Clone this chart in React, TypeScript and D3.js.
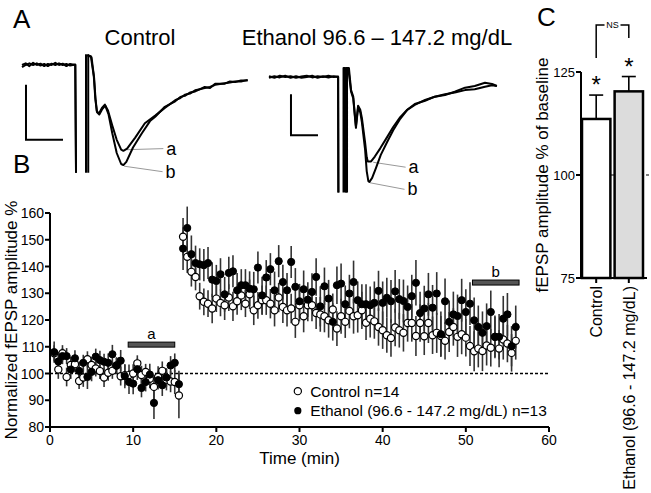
import React, { useEffect } from 'react';
import * as d3 from 'd3';

const FONT = '"Liberation Sans", Arial, Helvetica, sans-serif';

// ---------- Panel B data ----------
const baselineTimes = [0.5, 1, 1.5, 2, 2.5, 3, 3.5, 4, 4.5, 5, 5.5, 6, 6.5, 7, 7.5, 8, 8.5, 9, 9.5, 10, 10.5, 11, 11.5, 12, 12.5, 13, 13.5, 14, 14.5, 15, 15.5];
const postTimes = [16, 16.5, 17, 17.5, 18, 18.5, 19, 19.5, 20, 20.5, 21, 21.5, 22, 22.5, 23, 23.5, 24, 24.5, 25, 25.5, 26, 26.5, 27, 27.5, 28, 28.5, 29, 29.5, 30, 30.5, 31, 31.5, 32, 32.5, 33, 33.5, 34, 34.5, 35, 35.5, 36, 36.5, 37, 37.5, 38, 38.5, 39, 39.5, 40, 40.5, 41, 41.5, 42, 42.5, 43, 43.5, 44, 44.5, 45, 45.5, 46, 46.5, 47, 47.5, 48, 48.5, 49, 49.5, 50, 50.5, 51, 51.5, 52, 52.5, 53, 53.5, 54, 54.5, 55, 55.5, 56];

const controlBaseline = [107.6, 101.5, 107.6, 98.7, 103.2, 103.5, 97.2, 98.5, 105.3, 103.2, 101.9, 100.9, 98.5, 100.3, 101, 103, 99, 99.4, 99.4, 100, 103.8, 99.4, 100.6, 98, 95, 98.7, 101, 97.7, 97, 96.8, 91.8];
const ethanolBaseline = [108, 104.5, 106.5, 106.5, 101.5, 105.7, 101, 104, 98.7, 100.6, 106.3, 105, 104.4, 104, 107.2, 103, 104.8, 99, 96.8, 96.2, 101.6, 94.6, 96.8, 99.6, 89, 97.5, 95.6, 98.5, 103, 104, 96];
const controlBaselineSem = [3, 3.5, 3, 3.5, 3, 3, 3, 3.5, 3, 3, 3, 3, 3.5, 3, 3, 3, 3.5, 4, 4, 3.5, 3, 3.5, 3, 3.5, 4.5, 4, 3.5, 4, 4, 4.5, 8.5];
const ethanolBaselineSem = [4, 3.5, 3, 3, 3.5, 3, 3.5, 3, 4.5, 3.5, 3, 3.5, 3, 3.5, 3.5, 3, 4, 4.5, 4.5, 4, 4, 3.5, 3.5, 4, 6, 3.5, 4, 3.5, 3.5, 3.5, 5];

const controlPost = [151.1, 143.6, 138, 136.1, 128.9, 126.8, 126.1, 124.3, 128, 126.4, 125.5, 128.4, 125.1, 127, 129.2, 126.1, 129.6, 123.6, 125.5, 127.4, 127.4, 126.1, 123.6, 128.4,
  124.9, 123.6, 124.3, 119.3, 125.5, 121.4, 125.5, 125.5, 122.6, 122.1, 121.4, 119.9, 123.9, 116.8, 121.4, 119.3, 123.4, 121.4, 121.8, 123.6, 119, 120.5, 119.5, 117.4, 116.2, 114.3, 113.3, 117.2, 116.2, 115.2, 118.9,
  118.9, 114, 118.9, 113.9, 118.9, 114.3, 115.2, 114, 112.2, 115.5, 117.4, 113.7, 114.7, 113.4, 110.3, 108.3, 109.3, 108.4, 110.5, 109.6, 113.7, 109.3, 112.7, 111.2, 107.7, 112.2];
const ethanolPost = [146.7, 154.4, 144.6, 141.3, 140.8, 140.5, 141.3, 135.1, 134.6, 137.1, 129.6, 137.6, 138.2, 131.1, 133, 133, 131.7, 131.5, 139.6, 129.2, 135.9, 139, 131.1, 142,
  134.2, 131.1, 141.7, 132.4, 127, 131.5, 127.6, 130.5, 136.1, 125.1, 132.6, 128, 119.3, 133, 133.6, 125.9, 129.9, 134.2, 127.4, 125.9, 125.9, 125.5, 126.4, 130.9, 126.4, 128.3, 127, 130.7, 127.8, 127.1, 124.9,
  128.9, 133.9, 122.6, 124.3, 129.6, 124.6, 129.9, 114.7, 127, 119.3, 122.1, 121.5, 127.4, 123, 126.1, 119.9, 117.4, 115.2, 117.7, 123, 113.7, 113.7, 120.5, 122.1, 110.2, 117.4];
const controlPostSem = [7, 6, 5.5, 5, 5, 5, 5, 5.5, 5, 5,
  5.5, 5, 5.5, 5, 5.5, 5, 5.5, 5.5, 5, 5.5,
  5.5, 5.5, 6, 5.5, 6, 6, 5.5, 6, 6, 6,
  6, 6, 6, 6.5, 6, 6.5, 6, 6.5, 6.5, 6,
  6.5, 6.5, 6.5, 7, 6.5, 7, 6.5, 7, 7, 6.5,
  7, 7, 6.5, 7, 7, 7, 7.5, 7, 7, 7.5,
  7, 7.5, 7.5, 7, 7.5, 7, 7.5, 7.5, 7, 7.5,
  7.5, 7, 7.5, 7.5, 7, 7.5, 7, 7.5, 7, 7,
  7];
const ethanolPostSem = [8, 8, 7, 6.5, 6, 6, 6, 6.5, 6, 6,
  6.5, 6, 6, 6.5, 6, 6, 6.5, 6.5, 6, 7,
  6.5, 6, 7, 6, 6.5, 6.5, 6, 7, 6.5, 7,
  6.5, 7, 7, 7.5, 7, 7, 7, 7, 7.5, 7,
  7, 8, 7, 7.5, 7.5, 7, 8, 7.5, 8, 7.5,
  8, 8, 7.5, 8, 8, 8, 8.5, 8, 8.5, 8,
  8.5, 8, 8.5, 8.5, 8, 8.5, 8, 8, 8.5, 8,
  8.5, 8, 8, 8.5, 8, 8, 8.5, 8.5, 8, 7.5,
  8];

const xTicksB = [0, 10, 20, 30, 40, 50, 60];
const yTicksB = [80, 90, 100, 110, 120, 130, 140, 150, 160];
const periodA = [9.4, 15.0];
const periodB = [50.8, 56.4];
const legendLabels = ['Control n=14', 'Ethanol (96.6 - 147.2 mg/dL) n=13'];

// ---------- Panel C data ----------
const groupsC = ['Control', 'Ethanol (96.6 - 147.2 mg/dL)'];
const meansC = [113.6, 120.3];
const semsC = [5.8, 3.6];
const yTicksC = [75, 100, 125];

// ---------- Panel A traces (time ms, amplitude mV) ----------
type P = [number, number] | null;
const controlTraceA: P[] = [[0, 0], [0.5, 0.015], [1, -0.01], [1.5, 0.02], [2, 0], [2.5, 0.012], [3, -0.01], [3.5, 0.01], [4, 0], [4.5, 0.02], [5, 0], [5.5, 0.012], [6, -0.01], [6.5, 0.01], [7.2, 0],
  [7.3, -0.98], null, [8.65, -0.98], [8.65, 0.09], [9.3, 0.08], [9.7, -0.1], [9.9, -0.3], [10.1, -0.42], [10.4, -0.44], [10.8, -0.39], [11.2, -0.36], [11.6, -0.41], [12.2, -0.55], [12.8, -0.68], [13.4, -0.77], [13.7, -0.78], [14.2, -0.76], [15.3, -0.66], [16.6, -0.53], [18, -0.46], [19.3, -0.39], [20.7, -0.32], [21.4, -0.3], [22, -0.27], [22.7, -0.26], [23.4, -0.23], [24.7, -0.21], [25.4, -0.2], [26.1, -0.18], [27.4, -0.165], [28.1, -0.16], [28.8, -0.15], [29.6, -0.15], [30.5, -0.135]];
const controlTraceB: P[] = [[0, -0.02], [0.5, 0.0], [1, 0.015], [1.5, 0.0], [2, 0.015], [2.5, -0.005], [3, 0.01], [3.5, -0.01], [4, 0.012], [4.5, 0], [5, 0.015], [5.5, 0], [6, 0.01], [6.5, -0.005], [7.2, 0.005],
  [7.3, -0.98], null, [8.95, -0.98], [8.95, 0.09], [9.4, 0.07], [9.75, -0.12], [9.95, -0.32], [10.15, -0.43], [10.45, -0.45], [10.85, -0.4], [11.25, -0.37], [11.7, -0.45], [12.2, -0.62], [12.8, -0.8], [13.4, -0.9], [13.7, -0.91], [14.1, -0.88], [15, -0.75], [16.2, -0.62], [17.3, -0.51], [18, -0.47], [19.3, -0.38], [20.7, -0.33], [21.4, -0.29], [22, -0.28], [22.7, -0.25], [23.4, -0.24], [24.7, -0.2], [25.4, -0.21], [26.1, -0.17], [27.4, -0.17], [28.1, -0.15], [28.8, -0.155], [29.6, -0.14], [30.5, -0.14]];
const ethanolTraceA: P[] = [[0, 0.01], [1, -0.01], [2, 0.015], [3, 0], [4, 0.01], [5, -0.01], [6, 0.005], [7, 0.015], [8, -0.005], [9, 0.01], [10, 0], [11, 0.015], [12, 0], [12.8, 0.005],
  [12.85, -1.41], null, [13.8, -1.41], [13.8, 0.11], [14.1, 0.11], [14.1, -1.41], null, [14.45, -1.41], [14.45, 0.11], [14.8, 0.11], [15.2, -0.16], [15.6, -0.24], [15.9, -0.46], [16.1, -0.6], [16.5, -0.35], [16.9, -0.4], [17.2, -0.5], [17.8, -0.8], [18.1, -0.98], [18.3, -1.03], [18.9, -1.03], [19.6, -0.97], [20.6, -0.87], [21.9, -0.73], [23, -0.61], [24.3, -0.49], [25.6, -0.4], [27, -0.34], [28.9, -0.28], [30.7, -0.24], [32.6, -0.22], [34.4, -0.18], [36.3, -0.13], [38.1, -0.11], [40, -0.07], [41.3, -0.085], [42.2, -0.11]];
const ethanolTraceB: P[] = [[0, -0.01], [1, 0.01], [2, -0.005], [3, 0.015], [4, -0.01], [5, 0.01], [6, -0.01], [7, 0], [8, 0.015], [9, -0.01], [10, 0.01], [11, -0.005], [12, 0.01], [12.8, 0],
  [12.85, -1.41], null, [14.3, -1.41], [14.3, 0.11], [14.7, 0.1], [15.2, -0.18], [15.6, -0.26], [15.9, -0.48], [16.1, -0.62], [16.5, -0.37], [16.9, -0.43], [17.2, -0.55], [17.8, -0.89], [18.1, -1.15], [18.4, -1.27], [18.6, -1.28], [19.1, -1.23], [19.8, -1.11], [20.7, -0.95], [21.9, -0.79], [23, -0.65], [24.3, -0.51], [25.6, -0.4], [27, -0.33], [28.9, -0.29], [30.7, -0.24], [32.6, -0.21], [34.4, -0.19], [36.3, -0.16], [38.1, -0.15], [40, -0.12], [41.3, -0.1], [42.2, -0.11]];
const traceLabels = ['a', 'b'];
const controlLeaders = [[[14.2, -0.77], [19.1, -0.76]], [[13.8, -0.92], [19.0, -0.97]]];
const ethanolLeaders = [[[19.3, -1.04], [25.3, -1.1]], [[18.7, -1.29], [25.1, -1.37]]];

const titleControl = 'Control';
const titleEthanol = 'Ethanol 96.6 \u2013 147.2 mg/dL';

export default function App() {
  useEffect(() => {
    document.body.style.margin = '0';
  }, []);

  const xB = d3.scaleLinear().domain([0, 60]).range([50, 549]);
  const yB = d3.scaleLinear().domain([80, 160]).range([427, 213]);

  const controlPts = [...baselineTimes.map((t, i) => ({ t, v: controlBaseline[i], s: controlBaselineSem[i] })),
    ...postTimes.map((t, i) => ({ t, v: controlPost[i], s: controlPostSem[i] }))];
  const ethanolPts = [...baselineTimes.map((t, i) => ({ t, v: ethanolBaseline[i], s: ethanolBaselineSem[i] })),
    ...postTimes.map((t, i) => ({ t, v: ethanolPost[i], s: ethanolPostSem[i] }))];

  const xC = d3.scaleBand().domain(groupsC).range([582, 643]).paddingInner(0.13);
  const yC = d3.scaleLinear().domain([75, 125]).range([278, 72]);

  const cx = d3.scaleLinear().domain([0, 1]).range([22, 29.4]);
  const cy = d3.scaleLinear().domain([0, 1]).range([65, -45]);
  const ex = d3.scaleLinear().domain([0, 1]).range([269, 274.4]);
  const ey = d3.scaleLinear().domain([0, 1]).range([77, -5]);

  const mkLine = (sx: any, sy: any) => d3.line<P>().defined((d) => d !== null).x((d: any) => sx(d[0])).y((d: any) => sy(d[1]));
  const cLine = mkLine(cx, cy);
  const eLine = mkLine(ex, ey);

  const txt = { fontFamily: FONT, fill: '#000' } as const;
  const c0 = (xC(groupsC[0]) as number) + xC.bandwidth() / 2;
  const c1 = (xC(groupsC[1]) as number) + xC.bandwidth() / 2;
  const mid = (c0 + c1) / 2;
  const brTop = 25;

  return (
    <svg width={651} height={493} style={{ position: 'absolute', left: 0, top: 0, background: '#fff' }}>
      <rect x={0} y={0} width={651} height={493} fill="#fff" />
      <text x={13} y={28} fontSize={26} {...txt}>A</text>
      <text x={13} y={173} fontSize={26} {...txt}>B</text>
      <text x={537} y={26} fontSize={26} {...txt}>C</text>

      {/* ---------- Panel A ---------- */}
      <text x={140} y={45} fontSize={22} textAnchor="middle" {...txt}>{titleControl}</text>
      <text x={377} y={45} fontSize={22} textAnchor="middle" {...txt}>{titleEthanol}</text>
      <path d={`M${cx(0.54)},${cy(-0.18)}V${cy(-0.68)}H${cx(5.54)}`} fill="none" stroke="#000" strokeWidth={2} />
      <path d={`M${ex(4.07)},${ey(-0.21)}V${ey(-0.71)}H${ex(9.07)}`} fill="none" stroke="#000" strokeWidth={2} />
      {controlLeaders.map((l, i) => (
        <g key={'cl' + i}>
          <line x1={cx(l[0][0])} y1={cy(l[0][1])} x2={cx(l[1][0])} y2={cy(l[1][1])} stroke="#999" strokeWidth={1} />
          <text x={cx(l[1][0]) + 3} y={cy(l[1][1]) + 6} fontSize={18} {...txt}>{traceLabels[i]}</text>
        </g>
      ))}
      {ethanolLeaders.map((l, i) => (
        <g key={'el' + i}>
          <line x1={ex(l[0][0])} y1={ey(l[0][1])} x2={ex(l[1][0])} y2={ey(l[1][1])} stroke="#999" strokeWidth={1} />
          <text x={ex(l[1][0]) + 3} y={ey(l[1][1]) + 6} fontSize={18} {...txt}>{traceLabels[i]}</text>
        </g>
      ))}
      <path d={cLine(controlTraceA) || ''} fill="none" stroke="#000" strokeWidth={2} strokeLinejoin="round" />
      <path d={cLine(controlTraceB) || ''} fill="none" stroke="#000" strokeWidth={2} strokeLinejoin="round" />
      <path d={eLine(ethanolTraceA) || ''} fill="none" stroke="#000" strokeWidth={2} strokeLinejoin="round" />
      <path d={eLine(ethanolTraceB) || ''} fill="none" stroke="#000" strokeWidth={2} strokeLinejoin="round" />

      {/* ---------- Panel B ---------- */}
      <line x1={xB(0)} x2={xB(60)} y1={yB(100)} y2={yB(100)} stroke="#000" strokeWidth={1.5} strokeDasharray="3,2" />
      <rect x={xB(periodA[0])} width={xB(periodA[1]) - xB(periodA[0])} y={yB(110.8) - 2.5} height={5} fill="#555" stroke="#000" strokeWidth={1} />
      <text x={(xB(periodA[0]) + xB(periodA[1])) / 2} y={yB(110.8) - 6} fontSize={15} textAnchor="middle" {...txt}>a</text>
      <rect x={xB(periodB[0])} width={xB(periodB[1]) - xB(periodB[0])} y={yB(134) - 2.5} height={5} fill="#555" stroke="#000" strokeWidth={1} />
      <text x={(xB(periodB[0]) + xB(periodB[1])) / 2} y={yB(134) - 6} fontSize={15} textAnchor="middle" {...txt}>b</text>
      {controlPts.map((d, i) => (
        <line key={'ce' + i} x1={xB(d.t)} x2={xB(d.t)} y1={yB(d.v - d.s)} y2={yB(d.v + d.s)} stroke="#333" strokeWidth={1.6} />
      ))}
      {ethanolPts.map((d, i) => (
        <line key={'ee' + i} x1={xB(d.t)} x2={xB(d.t)} y1={yB(d.v - d.s)} y2={yB(d.v + d.s)} stroke="#333" strokeWidth={1.6} />
      ))}
      {controlPts.map((d, i) => (
        <circle key={'cp' + i} cx={xB(d.t)} cy={yB(d.v)} r={3.6} fill="#fff" stroke="#000" strokeWidth={1.2} />
      ))}
      {ethanolPts.map((d, i) => (
        <circle key={'ep' + i} cx={xB(d.t)} cy={yB(d.v)} r={3.6} fill="#000" stroke="#000" strokeWidth={1} />
      ))}
      <line x1={xB(0)} x2={xB(60)} y1={yB(80)} y2={yB(80)} stroke="#000" strokeWidth={2} />
      <line x1={xB(0)} x2={xB(0)} y1={yB(80)} y2={yB(160)} stroke="#000" strokeWidth={2} />
      {xTicksB.map((t) => (
        <g key={'xt' + t}>
          <line x1={xB(t)} x2={xB(t)} y1={yB(80)} y2={yB(80) + 5} stroke="#000" strokeWidth={2} />
          <text x={xB(t)} y={yB(80) + 18} fontSize={14} textAnchor="middle" {...txt}>{t}</text>
        </g>
      ))}
      {yTicksB.map((t) => (
        <g key={'yt' + t}>
          <line x1={xB(0) - 5} x2={xB(0)} y1={yB(t)} y2={yB(t)} stroke="#000" strokeWidth={2} />
          <text x={xB(0) - 6} y={yB(t) + 5} fontSize={14} textAnchor="end" {...txt}>{t}</text>
        </g>
      ))}
      <text x={xB(30)} y={464} fontSize={17} textAnchor="middle" {...txt}>Time (min)</text>
      <text transform={`translate(17,${(yB(80) + yB(160)) / 2}) rotate(-90)`} fontSize={17} textAnchor="middle" {...txt}>Normalized fEPSP amplitude %</text>
      <circle cx={xB(29.8)} cy={yB(93.4)} r={3.6} fill="#fff" stroke="#000" strokeWidth={1.2} />
      <text x={xB(31.3)} y={yB(93.4) + 5.5} fontSize={15.5} {...txt}>{legendLabels[0]}</text>
      <circle cx={xB(29.8)} cy={yB(86.1)} r={3.6} fill="#000" />
      <text x={xB(31.3)} y={yB(86.1) + 5.5} fontSize={15.5} {...txt}>{legendLabels[1]}</text>

      {/* ---------- Panel C ---------- */}
      <line x1={581} x2={651} y1={yC(100)} y2={yC(100)} stroke="#000" strokeWidth={1.2} strokeDasharray="3,2" />
      {groupsC.map((g, i) => {
        const x0 = xC(g) as number;
        const bw = xC.bandwidth();
        const cxm = x0 + bw / 2;
        const capY = yC(meansC[i] + semsC[i]);
        return (
          <g key={'bar' + i}>
            <line x1={cxm} x2={cxm} y1={yC(meansC[i])} y2={capY} stroke="#000" strokeWidth={1.6} />
            <line x1={cxm - 7} x2={cxm + 7} y1={capY} y2={capY} stroke="#000" strokeWidth={1.6} />
            <rect x={x0} y={yC(meansC[i])} width={bw} height={yC(75) - yC(meansC[i])} fill={i === 0 ? '#fff' : '#dcdcdc'} stroke="#000" strokeWidth={2.5} />
            <line x1={cxm} x2={cxm} y1={yC(75)} y2={yC(75) + 5} stroke="#000" strokeWidth={2} />
            <text transform={`translate(${cxm + 6},${yC(75) + 8}) rotate(-90)`} fontSize={16} textAnchor="end" {...txt}>{g}</text>
            <text x={cxm} y={capY - 2} fontSize={24} textAnchor="middle" {...txt}>*</text>
          </g>
        );
      })}
      <line x1={581} x2={581} y1={yC(75)} y2={yC(125)} stroke="#000" strokeWidth={2} />
      <line x1={581} x2={647} y1={yC(75)} y2={yC(75)} stroke="#000" strokeWidth={2} />
      {yTicksC.map((t) => (
        <g key={'yc' + t}>
          <line x1={576} x2={581} y1={yC(t)} y2={yC(t)} stroke="#000" strokeWidth={2} />
          <text x={575} y={yC(t) + 5} fontSize={13} textAnchor="end" {...txt}>{t}</text>
        </g>
      ))}
      <text transform={`translate(548,${(yC(75) + yC(125)) / 2}) rotate(-90)`} fontSize={17} textAnchor="middle" {...txt}>fEPSP amplitude % of baseline</text>
      <path d={`M${c0},58V${brTop}H${mid - 8}M${mid + 8},${brTop}H${c1}V38`} fill="none" stroke="#000" strokeWidth={1.5} />
      <text x={mid} y={brTop + 3} fontSize={9} textAnchor="middle" {...txt}>NS</text>
    </svg>
  );
}
